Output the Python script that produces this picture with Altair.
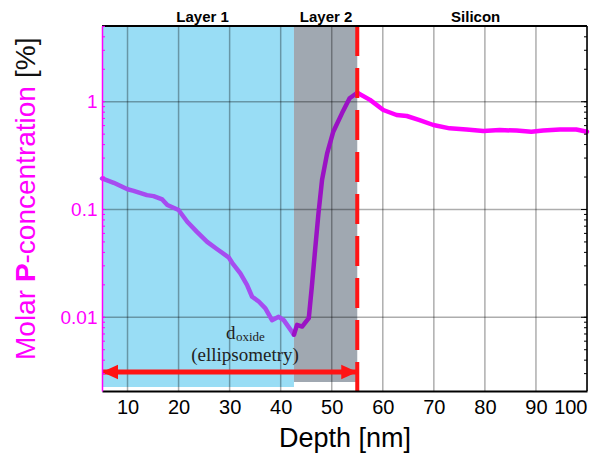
import altair as alt
import pandas as pd

# ---- curve data (depth in nm, molar P-concentration in %) ----
l1_depth = [5.0, 7.3, 10.0, 11.2, 13.8, 15.1, 16.8, 17.8, 20.0, 21.7, 23.6, 25.6, 27.5,
            29.8, 30.5, 32.1, 33.4, 34.4, 35.7, 37.0, 38.3, 39.6, 40.6, 41.5, 42.6]
l1_conc = [0.194, 0.177, 0.154, 0.149, 0.136, 0.133, 0.124, 0.110, 0.099, 0.077, 0.062, 0.050, 0.043,
           0.036, 0.032, 0.0256, 0.020, 0.0155, 0.014, 0.0121, 0.0094, 0.0101, 0.0094, 0.0082, 0.0069]
l2_depth = [42.6, 43.2, 44.2, 45.5, 46.1, 46.8, 47.4, 48.1, 49.1, 50.3, 52.0, 53.5, 55.0]
l2_conc = [0.0069, 0.0085, 0.0082, 0.0098, 0.0192, 0.0452, 0.092, 0.188, 0.332, 0.527, 0.78, 1.076, 1.21]
si_depth = [55.0, 57.5, 60.1, 62.7, 64.7, 67.2, 69.9, 73.1, 76.4, 79.7, 82.9, 86.2, 89.1, 91.4, 94.7, 97.9, 100.0]
si_conc = [1.21, 1.04, 0.838, 0.753, 0.737, 0.676, 0.608, 0.566, 0.553, 0.535, 0.545, 0.54, 0.527, 0.54, 0.553, 0.553, 0.527]

seg_names = ["Layer 1", "Layer 2", "Silicon"]
seg_colors = ["#A64CF0", "#9B12C4", "#FF00FF"]

# ---- regions ----
region_start = [5.0, 42.6]
region_end = [42.6, 55.0]
region_top = [5.04, 5.04]
region_bottom = [0.00226, 0.00251]
region_color = ["#99DDF5", "#A0A8B1"]

label_names = ["Layer 1", "Layer 2", "Silicon"]
label_x = [24.7, 48.9, 78.2]

x_ticks = [10, 20, 30, 40, 50, 60, 70, 80, 90, 100]
y_ticks = [0.01, 0.1, 1]
minor_mult = [1, 2, 3, 4, 5, 6, 7, 8, 9]
decades = [0.001, 0.01, 0.1, 1]

interface_depth = [55.0]
arrow_from = [5.0]
arrow_to = [55.0]
arrow_level = [0.00311]

W, H = 485, 365
xs = alt.Scale(domain=[5, 100], nice=False, zero=False)
ys = alt.Scale(type="log", domain=[0.00207, 5.04], nice=False)
RED = "#FF1414"
FONT = "Liberation Sans"

AX = alt.Axis(
    values=x_ticks, title="Depth [nm]", grid=False, ticks=False,
    labelFontSize=20, labelColor="black", labelFont=FONT, labelPadding=6,
    domainColor="black", domainWidth=2,
    titleFontSize=27, titleFont=FONT, titleFontWeight="normal", titleColor="black",
    titleBaseline="alphabetic", titleY=55, zindex=1)
AY = alt.Axis(
    values=y_ticks, format=".2~f", title=None, grid=False, ticks=False,
    labelFontSize=19, labelColor="#FF00FF", labelFont=FONT, labelPadding=5,
    domainColor="#FF00FF", domainWidth=1.5, zindex=1)

curve_rows = []
for name, dx, cy in zip(seg_names, [l1_depth, l2_depth, si_depth], [l1_conc, l2_conc, si_conc]):
    for i, (a, b) in enumerate(zip(dx, cy)):
        curve_rows.append({"seg": name, "i": i, "depth": a, "conc": b})
curve_df = pd.DataFrame(curve_rows)

region_df = pd.DataFrame({"start": region_start, "end": region_end, "top": region_top,
                          "bottom": region_bottom, "color": region_color})
minor_vals = [d * m for d in decades for m in minor_mult if 0.00207 <= d * m <= 5.04]
minor_df = pd.DataFrame({"t": minor_vals})
major_df = pd.DataFrame({"t": y_ticks})
one = pd.DataFrame({"a": [0]})


def X(f):
    return alt.X(f, scale=xs, axis=AX)


def Y(f):
    return alt.Y(f, scale=ys, axis=AY)


regions = alt.Chart(region_df).mark_rect().encode(
    x=X("start:Q"), x2="end:Q", y=Y("top:Q"), y2="bottom:Q",
    color=alt.Color("color:N", scale=None),
)

xgrid = alt.Chart(pd.DataFrame({"v": x_ticks})).mark_rule(color="black", opacity=0.32, strokeWidth=1.5).encode(
    x=X("v:Q"))
ygrid = alt.Chart(pd.DataFrame({"v": y_ticks})).mark_rule(color="black", opacity=0.32, strokeWidth=1.5).encode(
    y=Y("v:Q"))

curve = alt.Chart(curve_df).mark_line(strokeWidth=4.5, strokeJoin="round", strokeCap="round").encode(
    x=X("depth:Q"), y=Y("conc:Q"),
    color=alt.Color("seg:N", scale=alt.Scale(domain=seg_names, range=seg_colors), legend=None),
    order="i:Q",
)

dashed = alt.Chart(pd.DataFrame({"d": interface_depth})).mark_rule(
    color=RED, strokeWidth=4, strokeDash=[30, 12]).encode(x=X("d:Q"))

arrow_df = pd.DataFrame({"a0": arrow_from, "a1": arrow_to, "lvl": arrow_level})
arrow_line = alt.Chart(arrow_df).mark_rule(color=RED, strokeWidth=5).encode(
    x=X("a0:Q"), x2="a1:Q", y=Y("lvl:Q"))
head_l = alt.Chart(arrow_df).mark_point(
    shape="M0,0L1,-0.45L1,0.45Z", filled=True, color=RED, opacity=1, size=1024, strokeWidth=0).encode(
    x=X("a0:Q"), y=Y("lvl:Q"))
head_r = alt.Chart(arrow_df).mark_point(
    shape="M0,0L-1,-0.45L-1,0.45Z", filled=True, color=RED, opacity=1, size=1024, strokeWidth=0).encode(
    x=X("a1:Q"), y=Y("lvl:Q"))

labels = alt.Chart(pd.DataFrame({"name": label_names, "x": label_x})).mark_text(
    font=FONT, fontSize=15, fontWeight="bold", color="black", baseline="alphabetic").encode(
    x=X("x:Q"), y=alt.value(-4), text="name:N")

t_d = alt.Chart(one).mark_text(font="Liberation Serif", fontSize=19, align="left", baseline="alphabetic",
                               color="#222222").encode(x=alt.value(124), y=alt.value(313), text=alt.value("d"))
t_ox = alt.Chart(one).mark_text(font="Liberation Serif", fontSize=13, align="left", baseline="alphabetic",
                                color="#222222").encode(x=alt.value(134), y=alt.value(315), text=alt.value("oxide"))
t_el = alt.Chart(one).mark_text(font="Liberation Serif", fontSize=19, align="center", baseline="alphabetic",
                                color="#222222").encode(x=alt.value(143), y=alt.value(335), text=alt.value("(ellipsometry)"))


def ytitle(txt, ypos, color, weight="normal"):
    return alt.Chart(one).mark_text(font=FONT, fontSize=28, fontWeight=weight, angle=270, align="left",
                                    baseline="alphabetic", color=color).encode(
        x=alt.value(-67), y=alt.value(ypos), text=alt.value(txt))


yt = [ytitle("Molar", 334, "#FF00FF"), ytitle("P", 256, "#FF00FF", "bold"),
      ytitle("-concentration", 237.5, "#FF00FF"), ytitle("[%]", 52, "#111111")]

top_border = alt.Chart(one).mark_rule(color="black", strokeWidth=2).encode(
    x=alt.value(0), x2=alt.value(W), y=alt.value(0))
right_border = alt.Chart(one).mark_rule(color="black", strokeWidth=1.5).encode(
    x=alt.value(W), y=alt.value(0), y2=alt.value(H))
lticks = alt.Chart(minor_df).mark_rule(color="#FF00FF", strokeWidth=1).encode(
    x=alt.value(0), x2=alt.value(3), y=Y("t:Q"))
rticks = alt.Chart(minor_df).mark_rule(color="black", strokeWidth=1).encode(
    x=alt.value(W - 3), x2=alt.value(W), y=Y("t:Q"))
rmaj = alt.Chart(major_df).mark_rule(color="black", strokeWidth=1).encode(
    x=alt.value(W - 6), x2=alt.value(W), y=Y("t:Q"))

chart = alt.layer(
    regions, xgrid, ygrid, curve, dashed, arrow_line, head_l, head_r, labels,
    t_d, t_ox, t_el, *yt, top_border, right_border, lticks, rticks, rmaj
).properties(
    width=W, height=H,
    autosize=alt.AutoSizeParams(type="none"),
    padding={"left": 94, "top": 18, "right": 12, "bottom": 62},
).configure_view(stroke=None).configure(background="white")

chart.save("out.html", embed_options={"renderer": "svg", "actions": False})
